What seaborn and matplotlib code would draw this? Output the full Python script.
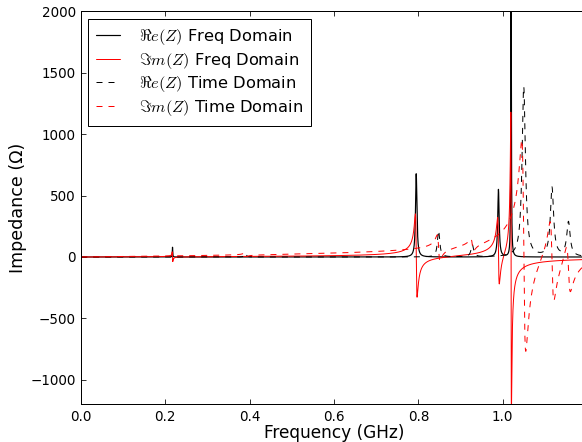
import numpy as np
import pandas as pd
import seaborn as sns
import matplotlib
matplotlib.use('Agg')
import matplotlib.pyplot as plt

# resonances: centre (GHz), peak Re(Z) (Ohm), quality factor
FD_FREQ = [0.217, 0.795, 0.990, 1.020]
FD_RS = [80, 680, 550, 2450]
FD_Q = [200, 200, 250, 700]
FD_RE_SCALE = [1.0, 1.0, 1.0, 1.0]
FD_IM_SCALE = [1.0, 1.0, 1.0, 1.0]

# time domain result: shifted, broader peaks plus a reactive background
TD_FREQ = [0.390, 0.848, 0.928, 1.050, 1.117, 1.156, 1.300]
TD_RS = [30, 215, 100, 1385, 560, 280, 400]
TD_Q = [80, 130, 130, 110, 120, 120, 25]
TD_RE_SCALE = [1.0, 1.0, 1.0, 1.0, 1.0, 1.0, 0.0]
TD_IM_SCALE = [1.0, 1.0, 1.0, 1.25, 1.2, 1.4, 1.0]

FREQ = np.linspace(0.0005, 1.2, 6000)

LABELS = [r'$\Re e(Z)$ Freq Domain', r'$\Im m(Z)$ Freq Domain',
          r'$\Re e(Z)$ Time Domain', r'$\Im m(Z)$ Time Domain']


def impedance(centres, rs, qs, re_scales, im_scales):
    re = np.zeros_like(FREQ)
    im = np.zeros_like(FREQ)
    for fr, r, q, a, b in zip(centres, rs, qs, re_scales, im_scales):
        z = r / (1 + 1j * q * (FREQ / fr - fr / FREQ))
        re += a * z.real
        im += b * z.imag
    return re, im


fd_re, fd_im = impedance(FD_FREQ, FD_RS, FD_Q, FD_RE_SCALE, FD_IM_SCALE)
td_re, td_im = impedance(TD_FREQ, TD_RS, TD_Q, TD_RE_SCALE, TD_IM_SCALE)
df = pd.DataFrame({'freq': FREQ, 'fd_re': fd_re, 'fd_im': fd_im,
                   'td_re': td_re, 'td_im': td_im})

sns.set_style('ticks')
plt.rcParams.update({
    'font.family': ['DejaVu Sans'],
    'mathtext.fontset': 'cm',
    'text.color': 'black', 'axes.labelcolor': 'black',
    'xtick.color': 'black', 'ytick.color': 'black',
    'axes.edgecolor': 'black',
    'xtick.direction': 'in', 'ytick.direction': 'in',
    'xtick.top': True, 'ytick.right': True,
    'xtick.major.size': 5, 'ytick.major.size': 5,
    'xtick.major.pad': 6, 'ytick.major.pad': 5,
    'axes.linewidth': 1.0,
    'xtick.labelsize': 13.5, 'ytick.labelsize': 13.5,
})

fig = plt.figure(figsize=(582 / 72, 442 / 72), dpi=72)
ax = fig.add_axes([81 / 582, 37.7 / 442, 506 / 582, 392.8 / 442])

dash = (0, (6, 6))
sns.lineplot(data=df, x='freq', y='fd_re', color='black', lw=1.2,
             label=LABELS[0], estimator=None, sort=False, ax=ax)
sns.lineplot(data=df, x='freq', y='fd_im', color='red', lw=1.0,
             label=LABELS[1], estimator=None, sort=False, ax=ax)
sns.lineplot(data=df, x='freq', y='td_re', color='black', lw=1.0, linestyle=dash,
             label=LABELS[2], estimator=None, sort=False, ax=ax)
sns.lineplot(data=df, x='freq', y='td_im', color='red', lw=1.0, linestyle=dash,
             label=LABELS[3], estimator=None, sort=False, ax=ax)

ax.set_xlim(0, 1.2)
ax.set_ylim(-1200, 2000)
ax.set_xticks([0.0, 0.2, 0.4, 0.6, 0.8, 1.0])
ax.set_yticks([-1000, -500, 0, 500, 1000, 1500, 2000])
ax.set_xlabel('Frequency (GHz)', fontsize=17, labelpad=0)
ax.set_ylabel('Impedance (Ω)', fontsize=17.5, labelpad=4)

leg = ax.legend(loc='upper left', fontsize=16.3, frameon=True, fancybox=False,
                framealpha=1, edgecolor='black', handlelength=1.45,
                handletextpad=1.15, labelspacing=0.22, borderpad=0.5,
                borderaxespad=0.45)
leg.get_frame().set_linewidth(1.0)

fig.savefig('out.png', dpi=72)
